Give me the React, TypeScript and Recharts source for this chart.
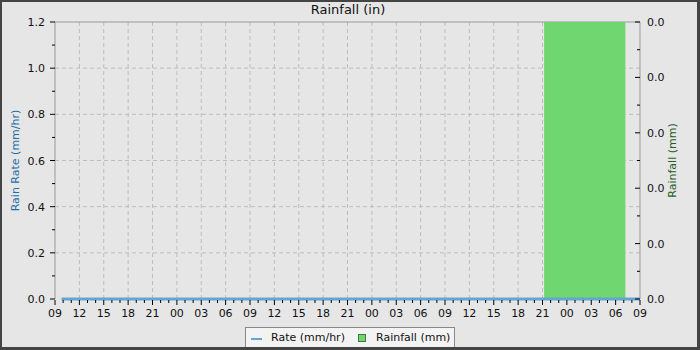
import React from 'react';
import {
  ComposedChart,
  Line,
  Area,
  XAxis,
  YAxis,
  CartesianGrid,
  Legend,
} from 'recharts';

// ---- data ----
// hours since 09:00 on the first day
const rateTimes = [0.8, 3, 6, 9, 12, 15, 18, 21, 24, 27, 30, 33, 36, 39, 42, 45, 48, 51, 54, 57, 60, 63, 66, 69, 72];
const rateValues = [0, 0, 0, 0, 0, 0, 0, 0, 0, 0, 0, 0, 0, 0, 0, 0, 0, 0, 0, 0, 0, 0, 0, 0, 0];
const rainTimes = [60.2, 70.2];
const rainValues = [0.01, 0.01];

const xMajorTicks = [0, 3, 6, 9, 12, 15, 18, 21, 24, 27, 30, 33, 36, 39, 42, 45, 48, 51, 54, 57, 60, 63, 66, 69, 72];
const xTickLabels = ['09', '12', '15', '18', '21', '00', '03', '06', '09', '12', '15', '18', '21', '00', '03', '06', '09', '12', '15', '18', '21', '00', '03', '06', '09'];
const xAllTicks = Array.from({ length: 73 }, (_, i) => i);

const leftTicks = [0, 0.1, 0.2, 0.3, 0.4, 0.5, 0.6, 0.7, 0.8, 0.9, 1.0, 1.1, 1.2];
const leftGridValues = [0.2, 0.4, 0.6, 0.8, 1.0];
const rightTicks = [0, 0.001, 0.002, 0.003, 0.004, 0.005, 0.006, 0.007, 0.008, 0.009, 0.01];

const rateData = rateTimes.map((t, i) => ({ t, rate: rateValues[i] }));
const rainData = rainTimes.map((t, i) => ({ t, rain: rainValues[i] }));

const FONT = '"DejaVu Sans", sans-serif';
const RATE_COLOR = '#62a6d2';
const RAIN_COLOR = '#70d670';

const XTick = (props: any) => {
  const { x, y, payload } = props;
  const v = payload.value;
  const major = v % 3 === 0;
  return (
    <g>
      <line x1={x} x2={x} y1={y + 1} y2={y + (major ? 6 : 4)} stroke="#000" />
      {major && (
        <text x={x} y={y + 18} textAnchor="middle" fontSize={11} fontFamily={FONT} fill="#111">
          {xTickLabels[xMajorTicks.indexOf(v)]}
        </text>
      )}
    </g>
  );
};

const LeftTick = (props: any) => {
  const { x, y, payload } = props;
  const v = payload.value;
  const major = Math.round(v * 10) % 2 === 0;
  return (
    <g>
      <line x1={x} x2={x - (major ? 5 : 3)} y1={y} y2={y} stroke="#000" />
      {major && (
        <text x={x - 10} y={y + 4} textAnchor="end" fontSize={11} fontFamily={FONT} fill="#111">
          {v.toFixed(1)}
        </text>
      )}
    </g>
  );
};

const RightTick = (props: any) => {
  const { x, y, payload } = props;
  const v = payload.value;
  const major = Math.round(v * 1000) % 2 === 0;
  return (
    <g>
      <line x1={x} x2={x - (major ? 5 : 3)} y1={y} y2={y} stroke="#000" />
      {major && (
        <text x={x + 7} y={y + 4} textAnchor="start" fontSize={11} fontFamily={FONT} fill="#111">
          {v.toFixed(1)}
        </text>
      )}
    </g>
  );
};

const LegendBox = () => (
  <div
    style={{
      boxSizing: 'border-box',
      width: 210,
      height: 22,
      background: '#f3f3f3',
      border: '1px solid #888',
      fontFamily: FONT,
      fontSize: 11,
      color: '#111',
      position: 'relative',
    }}
  >
    <div style={{ position: 'absolute', left: 5, top: 10, width: 11, height: 2, background: RATE_COLOR }} />
    <div style={{ position: 'absolute', left: 25, top: 3, whiteSpace: 'nowrap' }}>Rate (mm/hr)</div>
    <div
      style={{
        position: 'absolute',
        left: 112,
        top: 6,
        width: 8,
        height: 8,
        boxSizing: 'border-box',
        background: RAIN_COLOR,
        border: '1px solid #3d7a3d',
      }}
    />
    <div style={{ position: 'absolute', left: 130, top: 3, whiteSpace: 'nowrap' }}>Rainfall (mm)</div>
  </div>
);

export default function App() {
  return (
    <div style={{ position: 'fixed', left: 0, top: 0, width: 700, height: 350, background: '#e6e6e6', overflow: 'hidden' }}>
      <div
        style={{
          position: 'absolute',
          left: 0,
          top: 2,
          width: 696,
          textAlign: 'center',
          fontFamily: FONT,
          fontSize: 13,
          color: '#111',
        }}
      >
        Rainfall (in)
      </div>
      <div style={{ position: 'absolute', left: 0, top: 0 }}>
        <ComposedChart width={700} height={350} margin={{ top: 22, right: 0, bottom: 21, left: 0 }}>
          <CartesianGrid
            stroke="#bdbdbd"
            strokeDasharray="4 3"
            verticalValues={xMajorTicks.slice(1, -1)}
            horizontalValues={leftGridValues}
          />
          <CartesianGrid stroke="#999" vertical={false} horizontalValues={[1.2]} />
          <XAxis
            dataKey="t"
            type="number"
            domain={[0, 72]}
            ticks={xAllTicks}
            interval={0}
            tickSize={0}
            tickMargin={0}
            tickLine={false}
            tick={XTick}
            axisLine={false}
            height={30}
          />
          <YAxis
            type="number"
            domain={[0, 1.2]}
            ticks={leftTicks}
            interval={0}
            tickSize={0}
            tickMargin={0}
            tickLine={false}
            tick={LeftTick}
            axisLine={{ stroke: '#999' }}
            width={55}
            label={{
              value: 'Rain Rate (mm/hr)',
              angle: -90,
              position: 'insideLeft',
              dx: 10,
              style: { textAnchor: 'middle', fill: '#1d6fa6', fontSize: 11, fontFamily: FONT },
            }}
          />
          <YAxis
            yAxisId="right"
            orientation="right"
            type="number"
            domain={[0, 0.01]}
            ticks={rightTicks}
            interval={0}
            tickSize={0}
            tickMargin={0}
            tickLine={false}
            tick={RightTick}
            axisLine={{ stroke: '#999' }}
            width={60}
            label={{
              value: 'Rainfall (mm)',
              angle: -90,
              position: 'insideRight',
              dx: -23,
              style: { textAnchor: 'middle', fill: '#1f5f1f', fontSize: 11, fontFamily: FONT },
            }}
          />
          <Area
            yAxisId="right"
            data={rainData}
            dataKey="rain"
            type="linear"
            fill={RAIN_COLOR}
            fillOpacity={1}
            stroke="none"
            isAnimationActive={false}
            name="Rainfall (mm)"
          />
          <Line
            data={rateData}
            dataKey="rate"
            type="linear"
            stroke={RATE_COLOR}
            strokeWidth={3}
            dot={false}
            activeDot={false}
            isAnimationActive={false}
            name="Rate (mm/hr)"
          />
          <Legend
            verticalAlign="middle"
            align="center"
            layout="horizontal"
            content={LegendBox}
            wrapperStyle={{ position: 'absolute', left: 245, top: 327, width: 210, height: 22, bottom: 'auto', right: 'auto' }}
          />
        </ComposedChart>
      </div>
      <div
        style={{
          position: 'absolute',
          left: 0,
          top: 0,
          width: 700,
          height: 350,
          boxSizing: 'border-box',
          borderStyle: 'solid',
          borderColor: '#444',
          borderWidth: '2px 3px 3px 2px',
          pointerEvents: 'none',
        }}
      />
    </div>
  );
}
